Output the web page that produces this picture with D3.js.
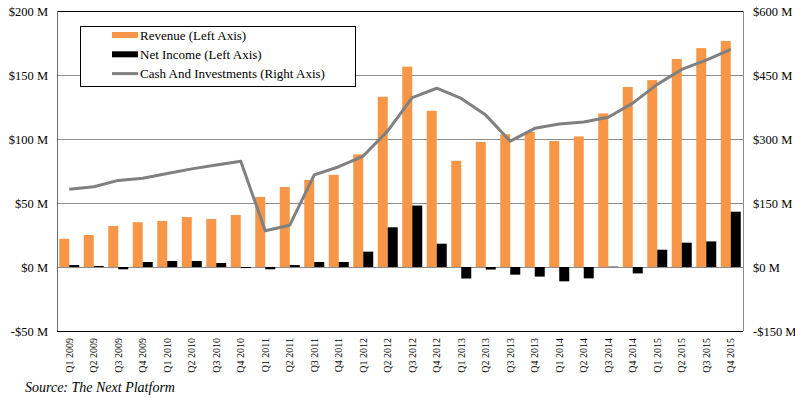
<!DOCTYPE html>
<html><head><meta charset="utf-8">
<script src="https://cdn.jsdelivr.net/npm/d3@7"></script>
<style>html,body{margin:0;padding:0;background:#fff;}svg{display:block;}</style>
</head><body>
<svg id="chart" width="795" height="398"></svg>
<script>
const quarters = ["Q1 2009","Q2 2009","Q3 2009","Q4 2009","Q1 2010","Q2 2010","Q3 2010","Q4 2010",
  "Q1 2011","Q2 2011","Q3 2011","Q4 2011","Q1 2012","Q2 2012","Q3 2012","Q4 2012",
  "Q1 2013","Q2 2013","Q3 2013","Q4 2013","Q1 2014","Q2 2014","Q3 2014","Q4 2014",
  "Q1 2015","Q2 2015","Q3 2015","Q4 2015"];
const revenue = [22,25,32,35,36,39,37.5,40.6,54.7,62.5,68,72,88,133,156.5,122,
  83,97.7,103.7,105.7,98.4,102,120,140.6,146,162.5,171,176.6];
const netIncome = [1.5,0.8,-1.8,3.9,4.7,4.7,3.1,-0.8,-1.8,1.5,3.9,3.9,12,31,48,18.2,
  -9,-2,-6,-7.5,-11.2,-8.9,0.3,-5,13.5,19,20,43.2];
const cash = [182,188,203,208,219,230,239,248,85,98,216,235,260,319,397,419,
  395,356,295,325,335,340,351,384,428,463,485,510];
const leftTicks = [-50,0,50,100,150,200];
const rightTicks = [-150,0,150,300,450,600];
const seriesNames = ["Revenue (Left Axis)","Net Income (Left Axis)","Cash And Investments (Right Axis)"];

const svg = d3.select("#chart");
const font = "'Liberation Serif', 'Times New Roman', serif";
const L = 57, R = 743, T = 11, B = 331;
const x = d3.scaleBand().domain(quarters).range([L, R]).padding(0);
const inner = d3.scaleBand().domain(["rev","ni"]).range([0, x.bandwidth()]).paddingInner(0).paddingOuter(0.225);
const yL = d3.scaleLinear().domain([-50,200]).range([B, T]);
const yR = d3.scaleLinear().domain([-150,600]).range([B, T]);

// gridlines
svg.append("g").selectAll("line").data(leftTicks.filter(d => d > -50 && d < 200)).join("line")
  .attr("x1", L).attr("x2", R).attr("y1", d => yL(d)).attr("y2", d => yL(d))
  .attr("stroke", "#8c8c8c").attr("stroke-width", 1).attr("shape-rendering","crispEdges");
// frame
svg.append("line").attr("x1", L).attr("x2", R).attr("y1", yL(200)).attr("y2", yL(200)).attr("stroke","#000").attr("shape-rendering","crispEdges");
svg.append("line").attr("x1", L).attr("x2", R).attr("y1", yL(-50)).attr("y2", yL(-50)).attr("stroke","#000").attr("shape-rendering","crispEdges");
svg.append("line").attr("x1", L).attr("x2", L).attr("y1", T).attr("y2", B).attr("stroke","#6e6e6e").attr("shape-rendering","crispEdges");
svg.append("line").attr("x1", R).attr("x2", R).attr("y1", T).attr("y2", B).attr("stroke","#8c8c8c").attr("shape-rendering","crispEdges");

// axes labels
const axL = d3.axisLeft(yL).tickValues(leftTicks).tickSize(0).tickPadding(9)
  .tickFormat(d => (d < 0 ? "-$" + Math.abs(d) : "$" + d) + " M");
const gL = svg.append("g").attr("transform", `translate(${L},0)`).call(axL);
const axR = d3.axisRight(yR).tickValues(rightTicks).tickSize(0).tickPadding(10)
  .tickFormat(d => (d < 0 ? "-$" + Math.abs(d) : "$" + d) + " M");
const gR = svg.append("g").attr("transform", `translate(${R},0)`).call(axR);
[gL, gR].forEach(g => {
  g.select(".domain").remove();
  g.selectAll("text").attr("font-family", font).attr("font-size", 12.5).attr("fill", "#000");
});

// x labels
const axB = d3.axisBottom(x).tickSize(0).tickPadding(0);
const gB = svg.append("g").attr("transform", `translate(0,${B})`).call(axB);
gB.select(".domain").remove();
gB.selectAll("text").attr("font-family", font).attr("font-size", 10).attr("fill","#000")
  .attr("text-anchor","end").attr("dy", null)
  .attr("transform", "translate(3.5,7) rotate(-90)");

// bars
svg.append("g").selectAll("rect").data(revenue).join("rect")
  .attr("x", (d,i) => x(quarters[i]) + inner("rev")).attr("width", inner.bandwidth())
  .attr("y", d => yL(Math.max(0,d))).attr("height", d => Math.abs(yL(d) - yL(0)))
  .attr("fill", "#f79646");
svg.append("g").selectAll("rect").data(netIncome).join("rect")
  .attr("x", (d,i) => x(quarters[i]) + inner("ni")).attr("width", inner.bandwidth())
  .attr("y", d => yL(Math.max(0,d))).attr("height", d => Math.abs(yL(d) - yL(0)))
  .attr("fill", "#000");

// line
const line = d3.line().x((d,i) => x(quarters[i]) + x.bandwidth()/2).y(d => yR(d));
svg.append("path").datum(cash).attr("d", line).attr("fill","none")
  .attr("stroke","#808080").attr("stroke-width",3).attr("stroke-linejoin","round");

// legend
const lg = svg.append("g");
lg.append("rect").attr("x", 80.5).attr("y", 26.5).attr("width", 275).attr("height", 60)
  .attr("fill","#fff").attr("stroke","#000").attr("stroke-width",1);
const colors = ["#f79646","#000","#808080"];
seriesNames.forEach((n,i) => {
  const cy = 35 + i*19.3;
  if (i < 2) lg.append("rect").attr("x", 112).attr("y", cy-3).attr("width", 26).attr("height", 6).attr("fill", colors[i]);
  else lg.append("line").attr("x1",112).attr("x2",138).attr("y1",cy).attr("y2",cy).attr("stroke",colors[i]).attr("stroke-width",3);
  lg.append("text").attr("x", 140).attr("y", cy + 4.5).text(n)
    .attr("font-family", font).attr("font-size", 13).attr("fill","#000");
});

// source
svg.append("text").attr("x", 25).attr("y", 392).text("Source: The Next Platform")
  .attr("font-family", font).attr("font-style","italic").attr("font-size", 14).attr("fill","#000");
</script>
</body></html>
